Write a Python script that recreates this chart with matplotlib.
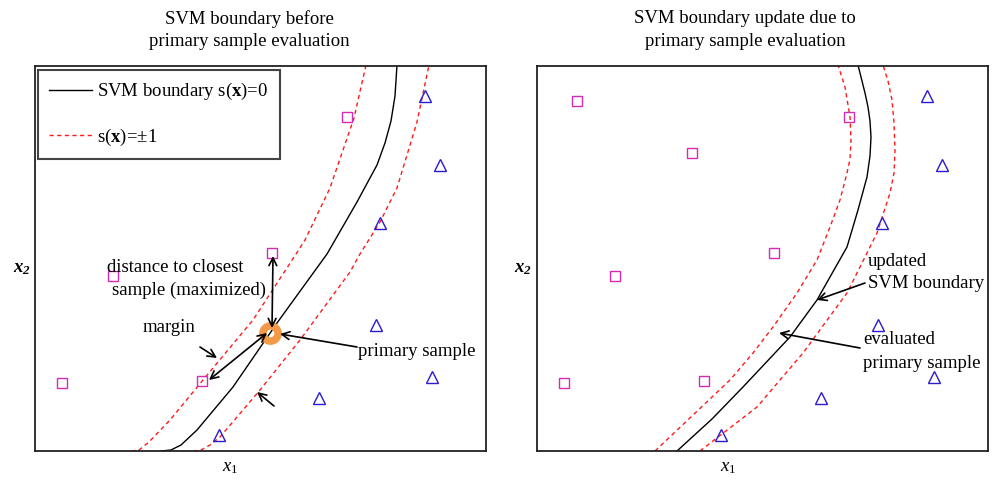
import matplotlib
matplotlib.use("Agg")
import matplotlib.pyplot as plt
from matplotlib.lines import Line2D

plt.rcParams["font.family"] = ["Liberation Serif", "DejaVu Serif"]
plt.rcParams["mathtext.fontset"] = "custom"
plt.rcParams["mathtext.rm"] = "Liberation Serif"
plt.rcParams["mathtext.it"] = "Liberation Serif:italic"
plt.rcParams["mathtext.bf"] = "Liberation Serif:bold"
plt.rcParams["mathtext.bfit"] = "Liberation Serif:italic:bold"

# samples (same in both panels), axes units ~ pixels
sq_x = [40, 155, 312, 237, 78, 27, 167]
sq_y = [350, 298, 334, 198, 175, 68, 70]
tri_x = [390, 405, 345, 341, 397, 284, 184]
tri_y = [355, 286, 228, 126, 74, 53, 16]
primary_x = [235]
primary_y = [118]

# boundary before evaluation
before_mid_x = [126, 136, 146, 162, 198, 242, 292, 322, 342, 350, 356, 360, 362]
before_mid_y = [0, 1, 6, 21, 64, 128, 197, 249, 286, 308, 330, 355, 386]
before_lo_x = [96, 104, 114, 135, 168, 218, 261, 270, 295, 319, 331]
before_lo_y = [0, 1, 9, 31, 71, 131, 197, 211, 263, 333, 386]
before_hi_x = [158, 166, 175, 185, 225, 265, 315, 325, 345, 362, 382, 394]
before_hi_y = [0, 1, 6, 14, 61, 111, 179, 197, 229, 263, 329, 386]

# boundary after evaluation
after_mid_x = [140, 175, 206, 253, 280, 293, 310, 321, 330, 333, 334, 333, 331, 328, 321]
after_mid_y = [0, 32, 64, 114, 151, 174, 204, 241, 274, 295, 314, 330, 344, 358, 386]
after_lo_x = [118, 193, 216, 236, 260, 280, 293, 303, 310, 313, 314, 313, 308, 301]
after_lo_y = [0, 71, 98, 124, 158, 191, 224, 251, 278, 292, 310, 334, 364, 386]
after_hi_x = [163, 220, 266, 310, 340, 353, 357, 358, 357, 355, 351, 346]
after_hi_y = [0, 44, 98, 158, 218, 258, 278, 300, 328, 351, 370, 386]

FS = 13.5
RED = "#ff1a1a"
MAG = "#d62ab4"
BLUE = "#2a1ad0"
ORANGE = "#f29a48"

fig = plt.figure(figsize=(9.98, 4.84), dpi=100)
axL = fig.add_axes([35/998, 1-451/484, 451/998, 385/484])
axR = fig.add_axes([537/998, 1-451/484, 451/998, 385/484])


def base(ax, mid, lo, hi):
    ax.set_xlim(0, 451); ax.set_ylim(0, 385)
    ax.set_xticks([]); ax.set_yticks([])
    for s in ax.spines.values():
        s.set_linewidth(1.3); s.set_color("#222222")
    ax.plot(mid[0], mid[1], color="k", lw=1.0)
    for c in (lo, hi):
        ax.plot(c[0], c[1], color=RED, lw=1.0, dashes=(3, 2.5))
    ax.plot(sq_x, sq_y, ls="none", marker="s", ms=6.5, mfc="none", mec=MAG, mew=1.0)
    ax.plot(tri_x, tri_y, ls="none", marker="^", ms=9, mfc="none", mec=BLUE, mew=1.0)


def arrow(ax, tail, head, style="->"):
    ax.annotate("", xy=head, xytext=tail,
                arrowprops=dict(arrowstyle=style, lw=1.2, color="k",
                                shrinkA=0, shrinkB=0, mutation_scale=14))


base(axL, (before_mid_x, before_mid_y), (before_lo_x, before_lo_y), (before_hi_x, before_hi_y))
base(axR, (after_mid_x, after_mid_y), (after_lo_x, after_lo_y), (after_hi_x, after_hi_y))

# primary sample (ring) in left panel
axL.plot(primary_x, primary_y, ls="none", marker="o", ms=11, mfc="none", mec=ORANGE, mew=5.4, zorder=3)

# left annotations
arrow(axL, (238, 195), (237, 123), "<->")
arrow(axL, (232, 118), (174, 71), "<->")
arrow(axL, (165, 104), (182, 93))
arrow(axL, (239, 45), (222, 59))
arrow(axL, (322, 104), (245, 117))
axL.text(72, 183, "distance to closest", fontsize=FS, va="center", ha="left")
axL.text(77, 161, "sample (maximized)", fontsize=FS, va="center", ha="left")
axL.text(108, 123, "margin", fontsize=FS, va="center", ha="left")
axL.text(323, 100, "primary sample", fontsize=FS, va="center", ha="left")

# legend
handles = [Line2D([], [], color="k", lw=1.0),
           Line2D([], [], color=RED, lw=1.0, dashes=(3, 2.5))]
labels = [r"SVM boundary s($\mathbf{x}$)=0", r"s($\mathbf{x}$)=$\pm$1"]
leg = axL.legend(handles, labels, loc="upper left", bbox_to_anchor=(0.0067, 0.99),
                 borderaxespad=0, fontsize=FS, fancybox=False, framealpha=1,
                 edgecolor="#444444", handlelength=2.3, handletextpad=0.25,
                 labelspacing=1.3, borderpad=0.6)
leg.get_frame().set_linewidth(1.5)

# right annotations
arrow(axR, (328, 168), (280, 151))
arrow(axR, (323, 103), (242, 118))
axR.text(331, 190, "updated", fontsize=FS, va="center", ha="left")
axR.text(331, 168, "SVM boundary", fontsize=FS, va="center", ha="left")
axR.text(326, 112, "evaluated", fontsize=FS, va="center", ha="left")
axR.text(326, 88, "primary sample", fontsize=FS, va="center", ha="left")

# axis labels
for ax, fx1, fx2 in ((axL, 0.432, -0.029), (axR, 0.424, -0.031)):
    ax.text(fx1, -0.044, r"$x_{\mathit{1}}$", transform=ax.transAxes, fontsize=FS, ha="center", va="center")
    ax.text(fx2, 0.475, r"$\mathbfit{x}_\mathbfit{2}$", transform=ax.transAxes,
            fontsize=FS, ha="center", va="center")

# titles
fig.text(249/998, 1-30/484, "SVM boundary before\nprimary sample evaluation",
         fontsize=FS, ha="center", va="center", linespacing=1.45)
fig.text(745/998, 1-30/484, "SVM boundary update due to\nprimary sample evaluation",
         fontsize=FS, ha="center", va="center", linespacing=1.45)

fig.savefig("out.png", dpi=100)
